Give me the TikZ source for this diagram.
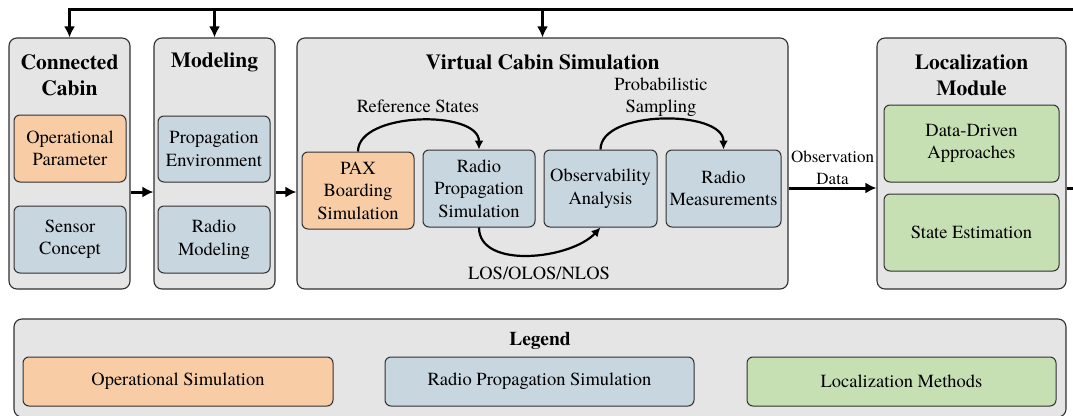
\documentclass[tikz,border=0pt]{standalone}
\usepackage{fontspec}
\setmainfont{texgyretermes}[Extension=.otf, UprightFont=*-regular, BoldFont=*-bold, ItalicFont=*-italic, BoldItalicFont=*-bolditalic]
\usetikzlibrary{arrows.meta}

\definecolor{boxgray}{HTML}{E5E5E5}
\definecolor{oporange}{HTML}{F8CDA6}
\definecolor{radblue}{HTML}{C8D6DF}
\definecolor{locgreen}{HTML}{C6E0B4}
\definecolor{edge}{HTML}{303030}

\tikzset{
  container/.style={draw=edge, fill=boxgray, rounded corners=8pt, line width=1.1pt, inner sep=0pt},
  inbox/.style={draw=edge, rounded corners=6pt, line width=1pt, inner sep=0pt, align=center,
    font=\fontsize{18.5}{22.5}\selectfont},
  opbox/.style={inbox, fill=oporange},
  radbox/.style={inbox, fill=radblue},
  locbox/.style={inbox, fill=locgreen},
  title/.style={align=center, font=\bfseries\fontsize{21.5}{26}\selectfont},
  lbl/.style={align=center, font=\fontsize{18.5}{22.5}\selectfont},
  flow/.style={line width=3pt, -{Latex[length=11pt,width=11pt]}},
  feed/.style={line width=2.2pt, -{Latex[length=9pt,width=9pt]}}
}

\begin{document}
\begin{tikzpicture}[x=1pt, y=-1pt]
\useasboundingbox (0,0) rectangle (1073,415);

% Connected Cabin
\node[container, minimum width=121pt, minimum height=251pt] (cc) at (69.5,163.5) {};
\node[title] (cctitle) at (69.5,75) {Connected\\Cabin};
\node[opbox, minimum width=112pt, minimum height=67pt] (oppar) at (70,148.5) {Operational\\Parameter};
\node[radbox, minimum width=112pt, minimum height=67pt] (sens) at (70,239.5) {Sensor\\Concept};

% Modeling
\node[container, minimum width=121pt, minimum height=251pt] (mod) at (214.5,163.5) {};
\node[title] (modtitle) at (214.5,62) {Modeling};
\node[radbox, minimum width=112pt, minimum height=66pt] (penv) at (214,149) {Propagation\\Environment};
\node[radbox, minimum width=112pt, minimum height=67pt] (rmod) at (214,239.5) {Radio\\Modeling};

% Virtual Cabin Simulation
\node[container, minimum width=491pt, minimum height=251pt] (vcs) at (542.5,163.5) {};
\node[title] (vcstitle) at (542.5,62) {Virtual Cabin Simulation};
\node[opbox, minimum width=112pt, minimum height=77pt] (pax) at (358,190.5) {PAX\\Boarding\\Simulation};
\node[radbox, minimum width=112pt, minimum height=77pt] (rps) at (479,188.5) {Radio\\Propagation\\Simulation};
\node[radbox, minimum width=113pt, minimum height=77pt] (obs) at (600.5,188.5) {Observability\\Analysis};
\node[radbox, minimum width=115pt, minimum height=77pt] (rmeas) at (723.5,188.5) {Radio\\Measurements};
\node[lbl] (refst) at (418,106) {Reference States};
\node[lbl] (probs) at (661,97) {Probabilistic\\Sampling};
\node[lbl] (losn) at (539,273) {LOS/OLOS/NLOS};

% Localization Module
\node[container, minimum width=189pt, minimum height=251pt] (loc) at (971.5,163.5) {};
\node[title] (loctitle) at (971.5,75) {Localization\\Module};
\node[locbox, minimum width=175pt, minimum height=77pt] (ddapp) at (971.5,143.5) {Data-Driven\\Approaches};
\node[locbox, minimum width=175pt, minimum height=77pt] (stest) at (971.5,232.5) {State Estimation};

% Legende
\node[container, minimum width=1052pt, minimum height=98pt] (leg) at (540,368) {};
\node[title, font=\bfseries\fontsize{19.5}{24}\selectfont] (legtitle) at (540,341) {Legend};
\node[opbox, minimum width=310pt, minimum height=49pt] (legop) at (178,381.5) {Operational Simulation};
\node[radbox, minimum width=309pt, minimum height=49pt] (legrad) at (539.5,381.5) {Radio Propagation Simulation};
\node[locbox, minimum width=309pt, minimum height=49pt] (legloc) at (901.5,381.5) {Localization Methods};

% Verbindungen
\coordinate (topR) at (1073,9);
\coordinate (outR) at (1073,188);
\draw[flow] ([yshift=-28.5pt]cc.east) -- ([yshift=-28.5pt]mod.west);
\draw[flow] ([yshift=-28.5pt]mod.east) -- ([yshift=-28.5pt]vcs.west);
\draw[flow] ([yshift=-24.5pt]vcs.east) -- node[above, align=center, font=\fontsize{17}{22}\selectfont, inner sep=2pt] (obsdata) {Observation\\Data} ([yshift=-24.5pt]loc.west);
\draw[line width=3pt] ([yshift=-24.5pt]loc.east) -- (outR);
\draw[flow] (topR) -| (cc.north);
\draw[flow] (mod.north |- topR) -- (mod.north);
\draw[flow] (vcs.north |- topR) -- (vcs.north);

% Kurven
\draw[feed] (pax.north) .. controls +(0,-40) and +(0,-40) .. (rps.north);
\draw[feed] (rps.south) .. controls +(0,42) and +(-30,32) .. (obs.south);
\draw[feed] (obs.north) .. controls +(0,-40) and +(0,-40) .. (rmeas.north);

\end{tikzpicture}
\end{document}
